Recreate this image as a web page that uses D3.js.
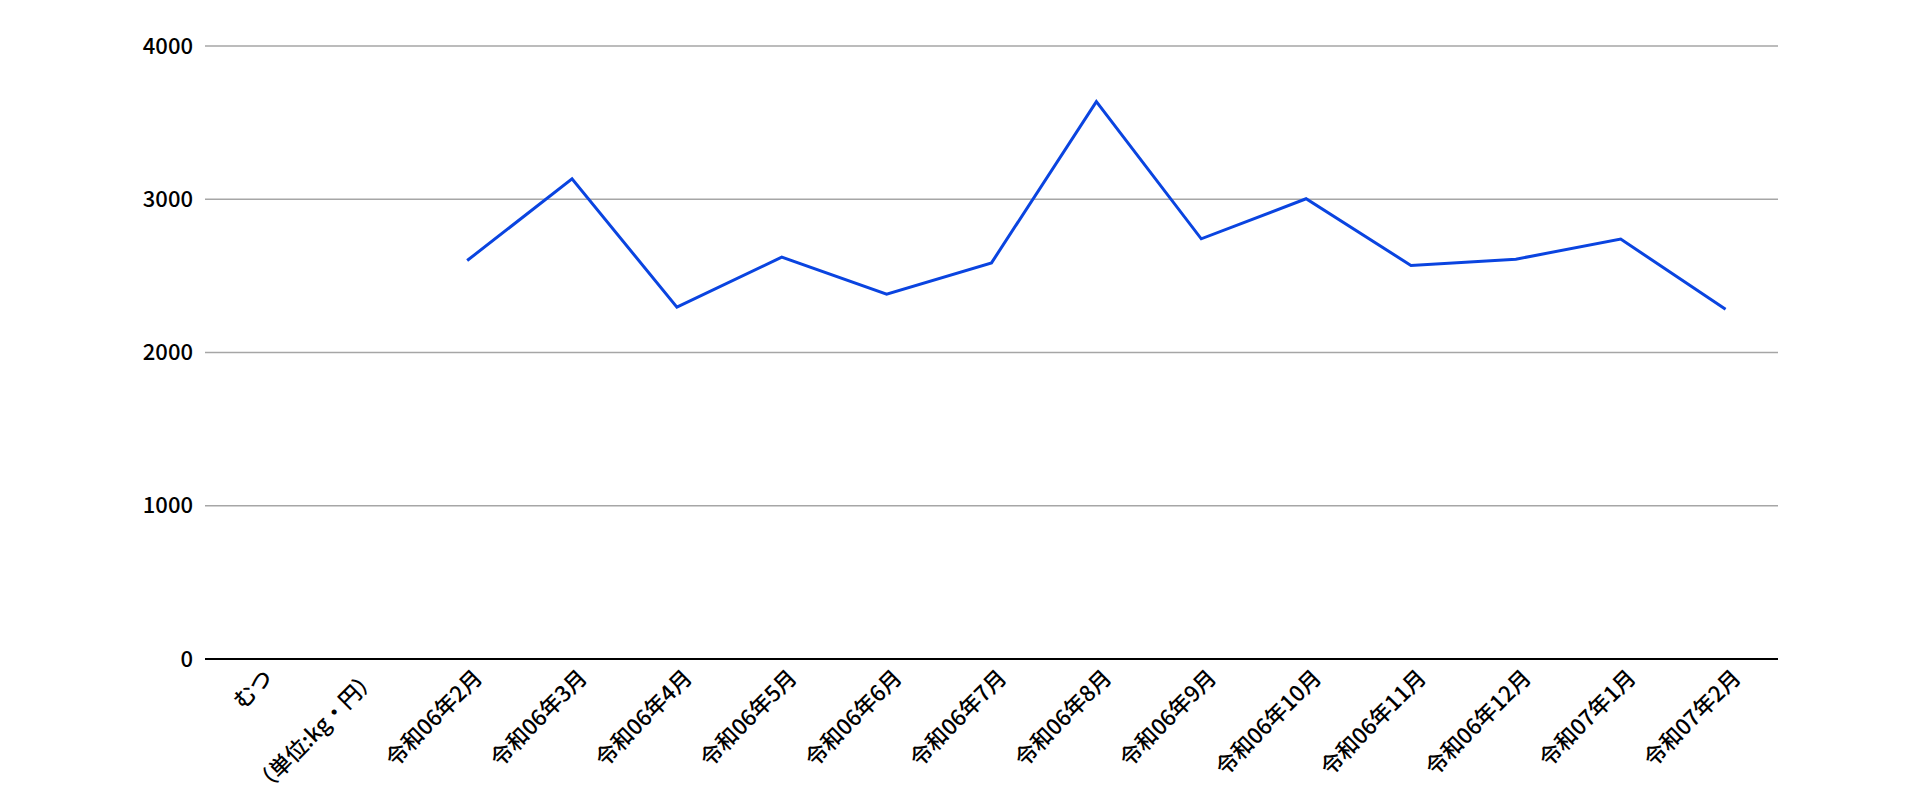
<!DOCTYPE html>
<meta charset="utf-8">
<style>

body {
  margin: 0;
  background: #fff;
}

.axis text {
  font-family: "Noto Sans CJK JP", "Noto Sans", sans-serif;
  font-size: 22px;
  font-weight: 500;
  fill: #000;
}

.grid line {
  stroke: #a6a6a6;
  stroke-width: 1.5;
}

.line {
  fill: none;
  stroke: #0a44e0;
  stroke-width: 3;
}

</style>
<body>
<script src="https://d3js.org/d3.v7.min.js"></script>
<script>

var categories = ["むつ", "（単位:kg・円）", "令和06年2月", "令和06年3月", "令和06年4月", "令和06年5月",
    "令和06年6月", "令和06年7月", "令和06年8月", "令和06年9月", "令和06年10月", "令和06年11月",
    "令和06年12月", "令和07年1月", "令和07年2月"];

// first two columns are header cells, no value
var values = [null, null, 2600, 3133, 2296, 2622, 2381, 2585, 3637, 2742, 3003, 2568, 2609, 2740, 2283];

var yTicks = [0, 1000, 2000, 3000, 4000];

var margin = {top: 46, right: 142, bottom: 141, left: 205},
    width = 1920 - margin.left - margin.right,
    height = 800 - margin.top - margin.bottom;

var svg = d3.select("body").append("svg")
    .attr("width", 1920)
    .attr("height", 800);

var g = svg.append("g")
    .attr("transform", "translate(" + margin.left + "," + margin.top + ")");

var x = d3.scalePoint()
    .domain(categories)
    .range([0, width])
    .padding(0.5);

var y = d3.scaleLinear()
    .domain([0, 4000])
    .range([height, 0]);

// horizontal grid
g.append("g")
    .attr("class", "grid")
  .selectAll("line")
    .data(yTicks.filter(function(d) { return d > 0; }))
  .enter().append("line")
    .attr("x1", 0)
    .attr("x2", width)
    .attr("y1", function(d) { return y(d); })
    .attr("y2", function(d) { return y(d); });

// y axis labels only
var yAxis = g.append("g")
    .attr("class", "y axis")
    .call(d3.axisLeft(y).tickValues(yTicks).tickFormat(d3.format("d")).tickSize(0).tickPadding(12));
yAxis.select(".domain").remove();

// x axis with rotated labels
var xAxis = g.append("g")
    .attr("class", "x axis")
    .attr("transform", "translate(0," + height + ")")
    .call(d3.axisBottom(x).tickSize(0));

xAxis.select(".domain")
    .attr("d", "M0,0H" + width)
    .attr("stroke", "#000")
    .attr("stroke-width", 2);

xAxis.selectAll("text")
    .style("text-anchor", "end")
    .attr("dx", 0)
    .attr("dy", 0)
    .attr("transform", "translate(14,18) rotate(-45)");

var line = d3.line()
    .defined(function(d) { return d != null; })
    .x(function(d, i) { return x(categories[i]); })
    .y(function(d) { return y(d); });

g.append("path")
    .datum(values)
    .attr("class", "line")
    .attr("d", line);

</script>
